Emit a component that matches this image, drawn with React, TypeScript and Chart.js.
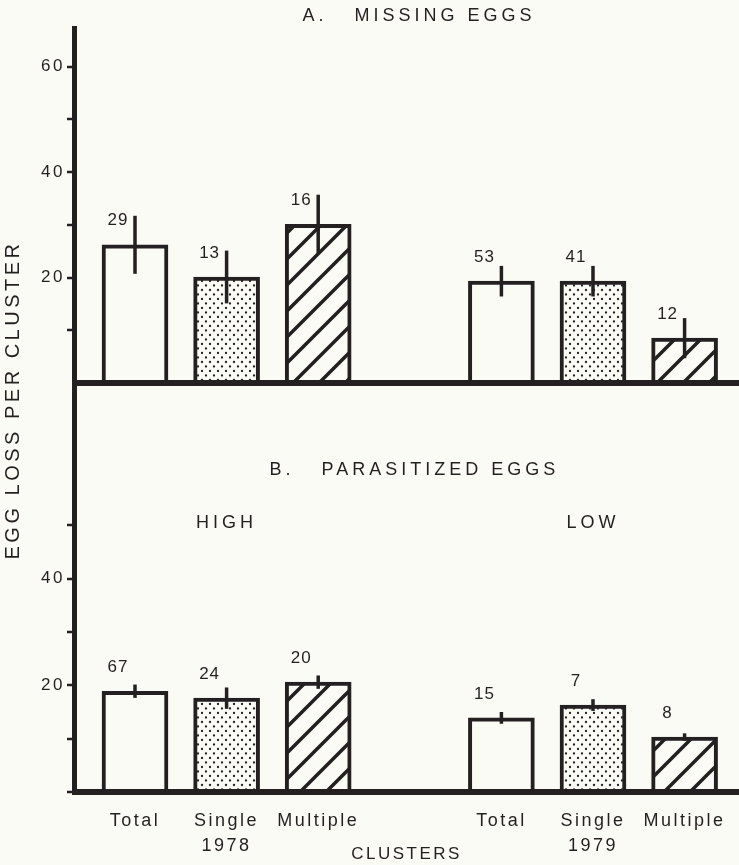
import React, { useEffect, useRef } from 'react';
import { Chart, registerables } from 'chart.js';

Chart.register(...registerables);

const INK = '#241f20';
const PAPER = '#fbfbf5';
const FONT = "'Liberation Sans', Arial, Helvetica, sans-serif";

// ---- data ----
const clusterLabels = ['Total', 'Single', 'Multiple', 'Total', 'Single', 'Multiple'];
const yearLabels = ['1978', '1979'];
const slotPositions = [0, 1, 2, 4, 5, 6];
const fillKinds = ['open', 'dots', 'hatch', 'open', 'dots', 'hatch'];

const missingMeans = [26.2, 20.1, 30.1, 19.3, 19.3, 8.5];
const missingErrors = [5.5, 5.0, 5.6, 2.9, 2.9, 3.8];
const missingCounts = [29, 13, 16, 53, 41, 12];

const parasitizedMeans = [18.9, 17.6, 20.6, 13.9, 16.3, 10.3];
const parasitizedErrors = [1.25, 2.0, 1.25, 1.1, 1.1, 0.7];
const parasitizedCounts = [67, 24, 20, 15, 7, 8];

const missingTicks = [0, 10, 20, 30, 40, 50, 60];
const parasitizedTicks = [0, 10, 20, 30, 40, 50];
const labeledTicks = [20, 40, 60];

const titleA = 'A.   MISSING EGGS';
const titleB = 'B.   PARASITIZED EGGS';
const groupHigh = 'HIGH';
const groupLow = 'LOW';
const yTitle = 'EGG LOSS PER CLUSTER';
const xTitle = 'CLUSTERS';

function makeDots(): CanvasPattern | string {
  const c = document.createElement('canvas');
  c.width = 8;
  c.height = 9;
  const g = c.getContext('2d');
  if (!g) return PAPER;
  g.fillStyle = PAPER;
  g.fillRect(0, 0, 8, 9);
  g.fillStyle = INK;
  g.beginPath();
  g.arc(2, 2, 1.15, 0, Math.PI * 2);
  g.arc(6, 6.5, 1.15, 0, Math.PI * 2);
  g.fill();
  return g.createPattern(c, 'repeat') || PAPER;
}

function makeHatch(): CanvasPattern | string {
  const s = 26;
  const c = document.createElement('canvas');
  c.width = s;
  c.height = s;
  const g = c.getContext('2d');
  if (!g) return PAPER;
  g.fillStyle = PAPER;
  g.fillRect(0, 0, s, s);
  g.strokeStyle = INK;
  g.lineWidth = 3.5;
  g.beginPath();
  g.moveTo(-2, s + 2);
  g.lineTo(s + 2, -2);
  g.moveTo(-4, 4);
  g.lineTo(4, -4);
  g.moveTo(s - 4, s + 4);
  g.lineTo(s + 4, s - 4);
  g.stroke();
  return g.createPattern(c, 'repeat') || PAPER;
}

const annotations = {
  id: 'annotations',
  beforeUpdate(chart: any) {
    chart.ctx.letterSpacing = '2.5px';
  },
  beforeDraw(chart: any) {
    const ctx = chart.ctx;
    ctx.save();
    ctx.fillStyle = PAPER;
    ctx.fillRect(0, 0, chart.width, chart.height);
    ctx.restore();
    ctx.letterSpacing = '2.5px';
  },
  afterDatasetsDraw(chart: any) {
    const ctx = chart.ctx;
    chart.data.datasets.forEach((ds: any, i: number) => {
      const meta = chart.getDatasetMeta(i);
      const ys = chart.scales[ds.yAxisID];
      meta.data.forEach((bar: any, j: number) => {
        const mean = ds.data[j].y;
        const err = ds.errors[j];
        ctx.save();
        ctx.strokeStyle = INK;
        ctx.lineWidth = 3.5;
        ctx.beginPath();
        ctx.moveTo(bar.x, ys.getPixelForValue(mean + err));
        ctx.lineTo(bar.x, ys.getPixelForValue(mean - err));
        ctx.stroke();
        ctx.fillStyle = INK;
        ctx.font = `17px ${FONT}`;
        ctx.letterSpacing = '1px';
        ctx.textAlign = 'center';
        ctx.textBaseline = 'middle';
        ctx.fillText(String(ds.counts[j]), bar.x - 17, bar.y - 24);
        ctx.restore();
      });
    });
  },
  afterDraw(chart: any) {
    const ctx = chart.ctx;
    const xs = chart.scales.x;
    const yB = chart.scales.yB;
    const area = chart.chartArea;
    ctx.save();
    ctx.fillStyle = INK;
    ctx.textAlign = 'center';
    ctx.textBaseline = 'middle';
    ctx.font = `18px ${FONT}`;
    ctx.letterSpacing = '4px';
    ctx.fillText(titleA, xs.getPixelForValue(3.1), area.top - 12);
    ctx.fillText(titleB, xs.getPixelForValue(3.05), yB.getPixelForValue(60.3));
    ctx.fillText(groupHigh, xs.getPixelForValue(1), yB.getPixelForValue(50.5));
    ctx.fillText(groupLow, xs.getPixelForValue(5), yB.getPixelForValue(50.5));
    ctx.translate(13, (area.top + area.bottom) / 2 - 10);
    ctx.rotate(-Math.PI / 2);
    ctx.font = `20px ${FONT}`;
    ctx.letterSpacing = '3.5px';
    ctx.fillText(yTitle, 0, 0);
    ctx.restore();
    ctx.letterSpacing = '0px';
  },
};

function yScale(ticks: number[], max: number, weight: number, zeroTick: boolean) {
  return {
    type: 'linear',
    position: 'left',
    stack: 'panels',
    stackWeight: weight,
    min: 0,
    max,
    z: 1,
    afterBuildTicks: (s: any) => {
      s.ticks = ticks.map((v) => ({ value: v }));
    },
    afterFit: (s: any) => {
      s.width = 74;
    },
    ticks: {
      autoSkip: false,
      callback: (v: number) => (labeledTicks.includes(v) ? String(v) : ''),
      font: { size: 17, family: FONT },
      color: INK,
      padding: 2,
    },
    grid: {
      drawOnChartArea: true,
      color: INK,
      lineWidth: (c: any) => (c.tick && c.tick.value === 0 ? 6 : 0),
      tickLength: 7,
      tickWidth: (c: any) => (c.tick && c.tick.value === 0 && !zeroTick ? 0 : 2.5),
      tickColor: INK,
    },
    border: { display: true, color: INK, width: 5 },
  };
}

export default function App() {
  const ref = useRef<HTMLCanvasElement>(null);

  useEffect(() => {
    const canvas = ref.current;
    if (!canvas) return;
    const dots = makeDots();
    const hatch = makeHatch();
    const fills = fillKinds.map((k) => (k === 'dots' ? dots : k === 'hatch' ? hatch : PAPER));

    const toPoints = (vals: number[]) => vals.map((v, i) => ({ x: slotPositions[i], y: v }));

    const chart = new Chart(canvas, {
      type: 'bar',
      data: {
        datasets: [
          {
            label: 'Missing eggs',
            yAxisID: 'yA',
            data: toPoints(missingMeans),
            errors: missingErrors,
            counts: missingCounts,
            backgroundColor: fills,
            borderColor: INK,
            borderWidth: 4,
            barThickness: 66,
            grouped: false,
          } as any,
          {
            label: 'Parasitized eggs',
            yAxisID: 'yB',
            data: toPoints(parasitizedMeans),
            errors: parasitizedErrors,
            counts: parasitizedCounts,
            backgroundColor: fills,
            borderColor: INK,
            borderWidth: 4,
            barThickness: 66,
            grouped: false,
          } as any,
        ],
      },
      options: {
        responsive: false,
        animation: false,
        devicePixelRatio: 1,
        layout: { padding: { top: 28, left: 0, right: 0, bottom: 0 } },
        font: { family: FONT },
        plugins: {
          legend: { display: false },
          title: { display: false },
          tooltip: { enabled: false },
        },
        scales: {
          x: {
            type: 'linear',
            position: 'bottom',
            offset: false,
            min: -0.666,
            max: 6.594,
            afterBuildTicks: (s: any) => {
              s.ticks = slotPositions.map((v) => ({ value: v }));
            },
            afterFit: (s: any) => {
              s.height = 73;
            },
            grid: { display: false, offset: false },
            border: { display: false },
            ticks: {
              autoSkip: false,
              maxRotation: 0,
              minRotation: 0,
              font: { size: 18, family: FONT, lineHeight: 1.4 },
              color: INK,
              padding: 8,
              callback: (v: number) => {
                const idx = slotPositions.indexOf(v);
                if (idx < 0) return '';
                const lab = clusterLabels[idx];
                if (lab === 'Single') return [lab, yearLabels[idx < 3 ? 0 : 1]];
                return lab;
              },
            },
            title: {
              display: true,
              text: xTitle,
              color: INK,
              font: { size: 17, family: FONT },
              padding: { top: 0, bottom: 0 },
            },
          },
          yB: yScale(parasitizedTicks, 76.7, 409, true),
          yA: yScale(missingTicks, 67.3, 355, false),
        } as any,
      },
      plugins: [annotations],
    } as any);

    return () => chart.destroy();
  }, []);

  return (
    <div style={{ position: 'absolute', left: 0, top: 0, width: 739, height: 865, background: PAPER }}>
      <canvas ref={ref} width={739} height={865} style={{ display: 'block', width: 739, height: 865 }} />
    </div>
  );
}
